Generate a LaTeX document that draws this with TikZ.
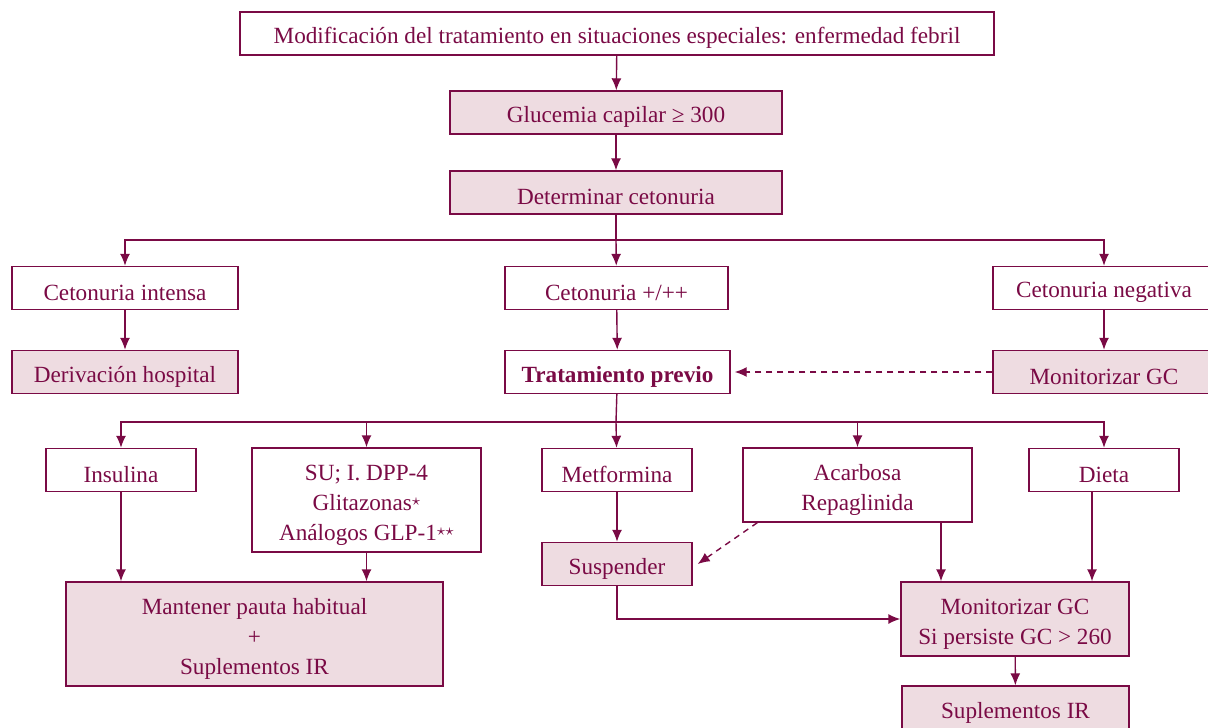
\documentclass[tikz,border=0pt]{standalone}
\usepackage{fontspec}
\setmainfont{Liberation Serif}
\usetikzlibrary{arrows.meta}
\definecolor{vino}{HTML}{7A0A45}
\definecolor{rosa}{HTML}{EEDCE1}
\newcommand{\estrella}{\raisebox{.45ex}{\footnotesize$\star$}}
\newcommand{\arriba}{\rule{0pt}{12.5pt}}

\begin{document}
\begin{tikzpicture}[x=0.5pt,y=-0.5pt,
    caja/.style={draw=vino,line width=0.7pt,text=vino,inner sep=0pt,
        minimum height=21.5pt,align=center,font=\fontsize{11.6}{15}\selectfont},
    cajar/.style={caja,fill=rosa},
    flecha/.style={-{Latex[length=6pt,width=5pt]},draw=vino,line width=0.7pt}]
    \useasboundingbox (0,0) rectangle (1208,727);
    % cabecera
    \node[caja,minimum width=377pt] (mod) at (617,33.5) {\arriba Modificación del tratamiento en situaciones especiales: enfermedad febril};
    \node[cajar,minimum width=166pt] (glu) at (616,112.5) {\arriba Glucemia capilar ≥ 300};
    \node[cajar,minimum width=166pt] (det) at (616,192.5) {\arriba Determinar cetonuria};
    \draw[flecha] (mod) -- (glu);
    \draw[flecha] (glu) -- (det);
    % cetonuria
    \node[caja,minimum width=113pt] (int) at (125,288) {\arriba Cetonuria intensa};
    \node[caja,minimum width=111.5pt] (pos) at (616.5,288) {\arriba Cetonuria +/++};
    \node[caja,minimum width=111pt] (neg) at (1104,288) {\arriba Cetonuria negativa};
    \coordinate (r1) at (616,240);
    \draw[vino,line width=0.7pt] (det) -- (r1);
    \draw[flecha] (r1) -| (int);
    \draw[flecha] (r1) -- (pos);
    \draw[flecha] (r1) -| (neg);
    \node[cajar,minimum width=113pt] (der) at (125,372) {\arriba Derivación hospital};
    \node[caja,minimum width=112.5pt,font=\fontsize{11.6}{15}\selectfont\bfseries] (tra) at (617.5,372) {\arriba Tratamiento previo};
    \node[cajar,minimum width=111pt] (mon) at (1104,372) {\arriba Monitorizar GC};
    \draw[flecha] (int) -- (der);
    \draw[flecha] (pos) -- (tra);
    \draw[flecha] (neg) -- (mon);
    \draw[flecha,dash pattern=on 3pt off 2.5pt,shorten >=2pt] (mon) -- (tra);
    % tratamiento previo
    \node[caja,minimum width=75pt] (ins) at (121,470) {\arriba Insulina};
    \node[caja,minimum width=114.5pt,minimum height=52pt] (su) at (366.5,500) {\arriba SU; I. DPP-4\\Glitazonas\estrella\\Análogos GLP-1\estrella\estrella};
    \node[caja,minimum width=75pt] (met) at (617,470) {\arriba Metformina};
    \node[caja,minimum width=114.5pt,minimum height=37pt] (aca) at (857.5,485) {\arriba Acarbosa\\Repaglinida};
    \node[caja,minimum width=75pt] (die) at (1104,470) {\arriba Dieta};
    \coordinate (r2) at (616,422);
    \draw[vino,line width=0.7pt] (tra) -- (r2);
    \draw[flecha] (r2) -| (ins);
    \draw[flecha] (r2) -| (su);
    \draw[flecha] (r2) -- (met);
    \draw[flecha] (r2) -| (aca);
    \draw[flecha] (r2) -| (die);
    % resultados
    \node[cajar,minimum width=75pt] (sus) at (617,564) {\arriba Suspender};
    \node[cajar,minimum width=188.5pt,minimum height=52pt] (man) at (254.5,634) {\arriba Mantener pauta habitual\\+\\Suplementos IR};
    \node[cajar,minimum width=114pt,minimum height=37pt] (gc) at (1015,619) {\arriba Monitorizar GC\\Si persiste GC > 260};
    \node[cajar,minimum width=113.5pt,minimum height=22pt] (sup) at (1015.5,708) {\arriba Suplementos IR};
    \draw[flecha] (ins) -- (ins |- man.north);
    \draw[flecha] (su) -- (su |- man.north);
    \draw[flecha] (met) -- (sus);
    \draw[flecha,dash pattern=on 3pt off 2.5pt] ([xshift=7.5pt]aca.south west) -- ([xshift=2.5pt]sus.east);
    \draw[flecha] ([xshift=41.75pt]aca.south) -- ([xshift=41.75pt]aca.south |- gc.north);
    \draw[flecha] ([xshift=-6pt]die.south) -- ([xshift=-6pt]die.south |- gc.north);
    \draw[flecha] (sus) |- (gc);
    \draw[flecha] (gc) -- (sup);
\end{tikzpicture}
\end{document}
